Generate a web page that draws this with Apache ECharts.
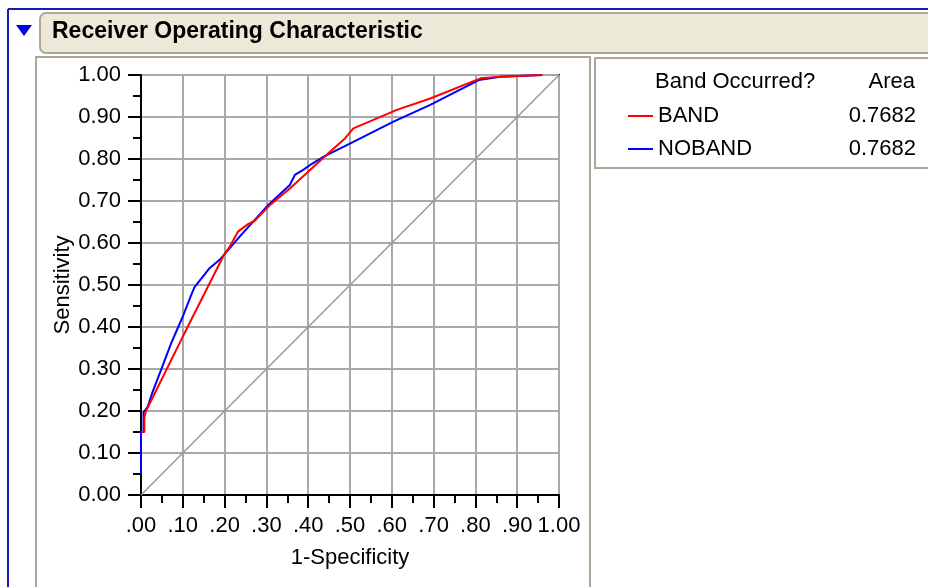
<!DOCTYPE html>
<html>
<head>
<meta charset="utf-8">
<script src="https://cdn.jsdelivr.net/npm/echarts@6/dist/echarts.min.js"></script>
<style>
html,body{margin:0;padding:0;background:#fff;}
#chart{width:928px;height:587px;}
</style>
</head>
<body>
<div id="chart"></div>
<script>
// ---- data ----
const chartTitle = 'Receiver Operating Characteristic';
const legendHeader = 'Band Occurred?';
const areaHeader = 'Area';
const seriesNames = ['BAND', 'NOBAND'];
const seriesAreas = ['0.7682', '0.7682'];
const seriesColors = ['#ff0000', '#0000ff'];

const bandFpr = [0, 0.008, 0.008, 0.012, 0.100, 0.116, 0.198, 0.212, 0.232, 0.256, 0.272, 0.308, 0.356, 0.396, 0.444, 0.488, 0.508, 0.556, 0.612, 0.692, 0.812, 0.860, 0.960];
const bandTpr = [0.15, 0.15, 0.185, 0.200, 0.377, 0.409, 0.571, 0.591, 0.627, 0.645, 0.653, 0.690, 0.730, 0.766, 0.810, 0.849, 0.873, 0.893, 0.917, 0.944, 0.992, 0.996, 1.000];

const nobandFpr = [0, 0, 0.006, 0.006, 0.016, 0.028, 0.048, 0.072, 0.100, 0.120, 0.128, 0.148, 0.164, 0.188, 0.198, 0.236, 0.304, 0.356, 0.368, 0.388, 0.408, 0.436, 0.508, 0.604, 0.692, 0.808, 0.860, 0.960];
const nobandTpr = [0.05, 0.15, 0.15, 0.197, 0.210, 0.246, 0.298, 0.361, 0.425, 0.476, 0.495, 0.520, 0.540, 0.560, 0.571, 0.615, 0.690, 0.738, 0.762, 0.774, 0.788, 0.805, 0.841, 0.889, 0.929, 0.988, 0.996, 1.000];

const diagX = [0, 1];
const diagY = [0, 1];

const xAxisName = '1-Specificity';
const yAxisName = 'Sensitivity';

// ---- build ----
const zip = (a, b) => a.map((v, i) => [v, b[i]]);
const FONT = '"Liberation Sans", Arial, sans-serif';

const chart = echarts.init(document.getElementById('chart'), null, {renderer: 'canvas'});

const xFmt = v => {
  const r = Math.round(v * 100) / 100;
  return r >= 1 ? r.toFixed(2) : r.toFixed(2).replace(/^0/, '');
};

const option = {
  backgroundColor: '#ffffff',
  animation: false,
  graphic: [
    // outer blue window border
    {type: 'line', shape: {x1: 8, y1: 9, x2: 928, y2: 9}, style: {stroke: '#1a1ab4', lineWidth: 2}, z: 1},
    {type: 'line', shape: {x1: 8, y1: 9, x2: 8, y2: 587}, style: {stroke: '#1a1ab4', lineWidth: 2}, z: 1},
    // header bar
    {type: 'rect', shape: {x: 40, y: 13, width: 900, height: 40, r: 6}, style: {fill: '#ece9d8', stroke: '#aca899', lineWidth: 2}, z: 1},
    {type: 'polygon', shape: {points: [[16, 25], [32, 25], [24, 36]]}, style: {fill: '#0000e0'}, z: 2},
    {type: 'text', left: 52, top: 20, style: {text: chartTitle, font: 'bold 23px ' + FONT, fill: '#000'}, z: 2},
    // plot panel
    {type: 'rect', shape: {x: 36, y: 57, width: 554, height: 545}, style: {fill: 'transparent', stroke: '#aca899', lineWidth: 2}, z: 0},
    // legend panel
    {type: 'rect', shape: {x: 595, y: 58, width: 345, height: 110}, style: {fill: '#fff', stroke: '#aca899', lineWidth: 2}, z: 0},
    {type: 'text', left: 655, top: 71, style: {text: legendHeader, font: '22px ' + FONT, fill: '#000'}, z: 2},
    {type: 'text', right: 13, top: 71, style: {text: areaHeader, font: '22px ' + FONT, fill: '#000', align: 'right'}, z: 2}
  ],
  grid: {
    left: 141, right: 369, top: 75, bottom: 92,
    show: true, borderColor: '#000', borderWidth: 2, backgroundColor: '#fff'
  },
  legend: {
    data: seriesNames,
    orient: 'vertical',
    left: 623, top: 100,
    itemWidth: 25, itemHeight: 2, itemGap: 11,
    icon: 'rect',
    selectedMode: false,
    formatter: name => {
      const i = seriesNames.indexOf(name);
      return '{n|' + name + '}{v|' + seriesAreas[i] + '}';
    },
    textStyle: {
      fontFamily: FONT, fontSize: 22, color: '#000',
      rich: {
        n: {width: 197, fontSize: 22, fontFamily: FONT, lineHeight: 22, color: '#000'},
        v: {width: 61, align: 'right', fontSize: 22, fontFamily: FONT, lineHeight: 22, color: '#000'}
      }
    }
  },
  xAxis: {
    type: 'value', min: 0, max: 1, interval: 0.1,
    name: xAxisName, nameLocation: 'middle', nameGap: 52,
    nameTextStyle: {fontFamily: FONT, fontSize: 22, color: '#000'},
    axisLine: {show: true, onZero: false, lineStyle: {color: '#000', width: 2}},
    axisTick: {show: true, inside: false, length: 13, lineStyle: {color: '#000', width: 2}},
    minorTick: {show: true, splitNumber: 2, length: 8, lineStyle: {color: '#000', width: 2}},
    axisLabel: {fontFamily: FONT, fontSize: 22, color: '#000', margin: 20, formatter: xFmt, showMaxLabel: true, showMinLabel: true},
    splitLine: {show: true, lineStyle: {color: '#a8a8a8', width: 2}}
  },
  yAxis: {
    type: 'value', min: 0, max: 1, interval: 0.1,
    name: yAxisName, nameLocation: 'middle', nameGap: 67, nameRotate: 90,
    nameTextStyle: {fontFamily: FONT, fontSize: 22, color: '#000'},
    axisLine: {show: true, onZero: false, lineStyle: {color: '#000', width: 2}},
    axisTick: {show: true, inside: false, length: 13, lineStyle: {color: '#000', width: 2}},
    minorTick: {show: true, splitNumber: 2, length: 8, lineStyle: {color: '#000', width: 2}},
    axisLabel: {fontFamily: FONT, fontSize: 22, color: '#000', margin: 20, formatter: v => (Math.round(v * 100) / 100).toFixed(2), showMaxLabel: true, showMinLabel: true},
    splitLine: {show: true, lineStyle: {color: '#a8a8a8', width: 2}}
  },
  series: [
    {
      name: 'diag', type: 'line', data: zip(diagX, diagY), showSymbol: false, silent: true,
      lineStyle: {color: '#999999', width: 1.5}, z: 2
    },
    {
      name: seriesNames[1], type: 'line', data: zip(nobandFpr, nobandTpr), showSymbol: false,
      color: seriesColors[1], lineStyle: {color: seriesColors[1], width: 2}, z: 3
    },
    {
      name: seriesNames[0], type: 'line', data: zip(bandFpr, bandTpr), showSymbol: false,
      color: seriesColors[0], lineStyle: {color: seriesColors[0], width: 2}, z: 4
    }
  ]
};
chart.setOption(option);
</script>
</body>
</html>
